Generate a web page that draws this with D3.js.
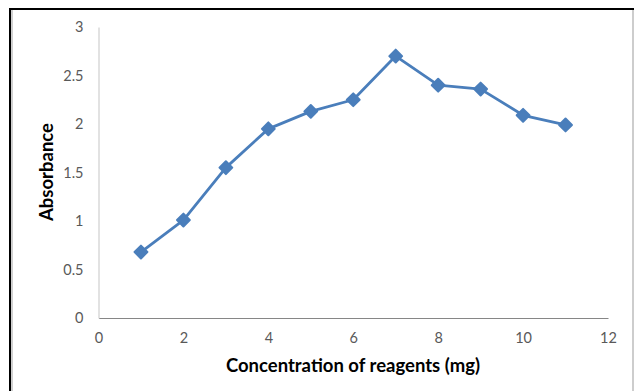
<!DOCTYPE html>
<html>
<head>
<meta charset="utf-8">
<script src="https://cdn.jsdelivr.net/npm/d3@7"></script>
<style>
  html, body { margin: 0; padding: 0; background: #fff; }
  svg { display: block; }
</style>
</head>
<body>
<svg id="chart" width="634" height="391"></svg>
<script>
// Absorbance measured against reagent concentration
const concentrations = [1, 2, 3, 4, 5, 6, 7, 8, 9, 10, 11];
const absorbance = [0.68, 1.01, 1.55, 1.95, 2.13, 2.25, 2.70, 2.40, 2.36, 2.09, 1.99];
const xTicks = [0, 2, 4, 6, 8, 10, 12];
const yTicks = [0, 0.5, 1, 1.5, 2, 2.5, 3];
const xTitle = "Concentration of reagents (mg)";
const yTitle = "Absorbance";

const svg = d3.select("#chart");
const font = "Lato, 'Open Sans', sans-serif";

// Frame around the chart
svg.append("line").attr("x1", 9).attr("x2", 634).attr("y1", 9).attr("y2", 9)
  .attr("stroke", "#000").attr("stroke-width", 2);
svg.append("line").attr("x1", 10).attr("x2", 10).attr("y1", 8).attr("y2", 391)
  .attr("stroke", "#000").attr("stroke-width", 2);
svg.append("line").attr("x1", 12).attr("x2", 12).attr("y1", 10).attr("y2", 391)
  .attr("stroke", "#d0d0d0").attr("stroke-width", 2);
svg.append("line").attr("x1", 633).attr("x2", 633).attr("y1", 10).attr("y2", 391)
  .attr("stroke", "#bdbdbd").attr("stroke-width", 1.5);

const x = d3.scaleLinear().domain([0, 12]).range([98.5, 608]);
const y = d3.scaleLinear().domain([0, 3]).range([318, 27]);

// Axes
const xAxis = svg.append("g").attr("transform", `translate(0,${y(0)})`)
  .call(d3.axisBottom(x).tickValues(xTicks).tickSize(0).tickPadding(15).tickFormat(d3.format("d")));
const yAxis = svg.append("g").attr("transform", `translate(${x(0)},0)`)
  .call(d3.axisLeft(y).tickValues(yTicks).tickSize(0).tickPadding(15).tickFormat(d => String(d)));

xAxis.select(".domain").attr("stroke", "#868686").attr("stroke-width", 1.2);
yAxis.select(".domain").attr("stroke", "#d9d9d9").attr("stroke-width", 1.5);
[xAxis, yAxis].forEach(g => g.selectAll("text")
  .attr("fill", "#595959").style("font-family", font).style("font-size", "14.5px"));

// Series line and markers
const line = d3.line().x((d, i) => x(concentrations[i])).y(d => y(d));
svg.append("path").datum(absorbance)
  .attr("d", line).attr("fill", "none")
  .attr("stroke", "#4a7ebb").attr("stroke-width", 2.8).attr("stroke-linejoin", "round");

svg.append("g").selectAll("path").data(absorbance).join("path")
  .attr("d", d3.symbol(d3.symbolDiamond2, 105))
  .attr("transform", (d, i) => `translate(${x(concentrations[i])},${y(d)})`)
  .attr("fill", "#4a7ebb").attr("stroke", "#4a7ebb").attr("stroke-width", 2).attr("stroke-linejoin", "round");

// Axis titles
svg.append("text").attr("x", 353).attr("y", 372).attr("text-anchor", "middle")
  .style("font-family", font).style("font-weight", "bold").style("font-size", "18.5px")
  .attr("fill", "#000").text(xTitle);
svg.append("text").attr("transform", "translate(53,172) rotate(-90)").attr("text-anchor", "middle")
  .style("font-family", font).style("font-weight", "bold").style("font-size", "18.5px")
  .attr("fill", "#000").text(yTitle);
</script>
</body>
</html>
